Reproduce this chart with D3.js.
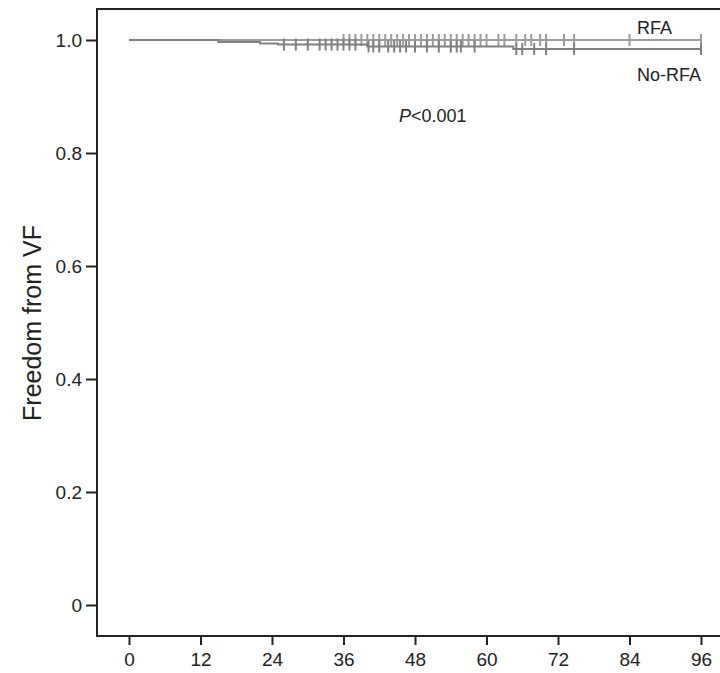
<!DOCTYPE html>
<html>
<head>
<meta charset="utf-8">
<script src="https://cdn.jsdelivr.net/npm/d3@7"></script>
<style>
  body { margin: 0; background: #fff; }
  text { font-family: Arial, "Liberation Sans", sans-serif; fill: #222; }
</style>
</head>
<body>
<div id="chart"></div>
<script>
// months of follow-up and survival estimates
var xTicks = [0, 12, 24, 36, 48, 60, 72, 84, 96];
var yTicks = [0, 0.2, 0.4, 0.6, 0.8, 1.0];
var yTickLabels = ["0", "0.2", "0.4", "0.6", "0.8", "1.0"];

var rfaTimes = [0, 96];
var rfaSurv = [1.0, 1.0];
var rfaCensor = [36, 37, 38, 39, 40, 41, 42, 43, 44, 45, 46, 47, 48, 49, 50, 51, 52, 53, 54, 55,
                 56, 57, 58, 59, 60, 62, 63, 65, 66.5, 67.5, 69, 70, 73, 74.7, 84, 96];

var norfaTimes = [0, 15, 22, 25, 40, 64.5, 96];
var norfaSurv = [1.0, 0.9965, 0.994, 0.992, 0.9885, 0.984, 0.984];
var norfaCensor = [26, 28, 30, 32, 33, 34, 35, 36, 37, 38, 40.2, 41, 42, 43.5, 44.5, 45.5, 46.5,
                   48, 50, 52, 54, 55, 55.7, 58, 65, 66, 68, 70, 74.7, 96];

var width = 720, height = 673;

var x = d3.scaleLinear().domain([0, 96]).range([129, 701]);
var y = d3.scaleLinear().domain([0, 1]).range([605, 40]);

var svg = d3.select("#chart").append("svg")
    .attr("width", width)
    .attr("height", height);

// frame: left, top and bottom lines
var frameLeft = 97, frameTop = 9, frameBottom = 636;
svg.append("path")
    .attr("d", "M" + width + "," + frameTop + "H" + frameLeft + "V" + frameBottom + "H" + width)
    .attr("fill", "none")
    .attr("stroke", "#222")
    .attr("stroke-width", 2);

// x axis
var xAxis = svg.append("g")
    .attr("transform", "translate(0," + frameBottom + ")")
    .call(d3.axisBottom(x).tickValues(xTicks).tickSize(9).tickPadding(8));
xAxis.select(".domain").remove();
xAxis.selectAll(".tick line").attr("stroke", "#222").attr("stroke-width", 2);
xAxis.selectAll(".tick text").attr("font-size", 19).attr("fill", "#222")
    .attr("font-family", "Arial, 'Liberation Sans', sans-serif");

// y axis
var yAxis = svg.append("g")
    .attr("transform", "translate(" + frameLeft + ",0)")
    .call(d3.axisLeft(y).tickValues(yTicks).tickSize(11).tickPadding(4)
      .tickFormat(function(d, i) { return yTickLabels[i]; }));
yAxis.select(".domain").remove();
yAxis.selectAll(".tick line").attr("stroke", "#222").attr("stroke-width", 2);
yAxis.selectAll(".tick text").attr("font-size", 19).attr("fill", "#222")
    .attr("font-family", "Arial, 'Liberation Sans', sans-serif");

svg.append("text")
    .attr("transform", "translate(41,323) rotate(-90)")
    .attr("text-anchor", "middle")
    .attr("font-size", 25)
    .text("Freedom from VF");

// step lines
function stepValue(times, surv, t) {
  var v = surv[0];
  for (var i = 0; i < times.length; i++) {
    if (times[i] <= t) v = surv[i];
  }
  return v;
}

var line = d3.line()
    .x(function(d) { return x(d[0]); })
    .y(function(d) { return y(d[1]); })
    .curve(d3.curveStepAfter);

var groups = [
  {times: rfaTimes, surv: rfaSurv, censor: rfaCensor, color: "#9c9c9c"},
  {times: norfaTimes, surv: norfaSurv, censor: norfaCensor, color: "#808080"}
];

groups.forEach(function(g) {
  var pts = g.times.map(function(t, i) { return [t, g.surv[i]]; });
  svg.append("path")
      .datum(pts)
      .attr("d", line)
      .attr("fill", "none")
      .attr("stroke", g.color)
      .attr("stroke-width", 2);

  svg.selectAll(null)
      .data(g.censor)
    .enter().append("line")
      .attr("x1", function(d) { return x(d); })
      .attr("x2", function(d) { return x(d); })
      .attr("y1", function(d) { return y(stepValue(g.times, g.surv, d)) - 6; })
      .attr("y2", function(d) { return y(stepValue(g.times, g.surv, d)) + 6; })
      .attr("stroke", g.color)
      .attr("stroke-width", 2);
});

// labels
svg.append("text")
    .attr("x", 637)
    .attr("y", 34)
    .attr("font-size", 18)
    .text("RFA");

svg.append("text")
    .attr("x", 637)
    .attr("y", 81)
    .attr("font-size", 18)
    .text("No-RFA");

var p = svg.append("text")
    .attr("x", 399)
    .attr("y", 122)
    .attr("font-size", 18);
p.append("tspan").attr("font-style", "italic").text("P");
p.append("tspan").text("<0.001");
</script>
</body>
</html>
